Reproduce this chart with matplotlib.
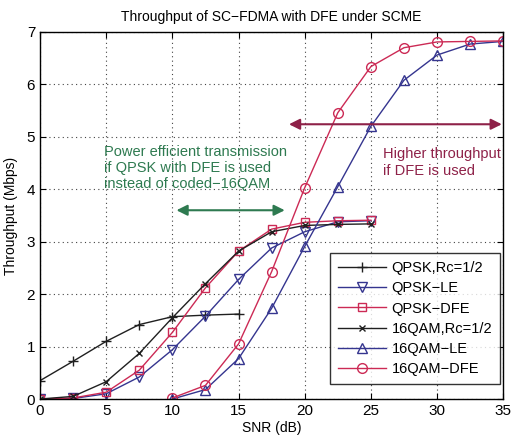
import numpy as np
import matplotlib.pyplot as plt

plt.rcParams['font.family'] = ['Liberation Sans', 'DejaVu Sans']

qpsk_coded_x = [0, 2.5, 5, 7.5, 10, 12.5, 15]
qpsk_coded = [0.35, 0.72, 1.10, 1.42, 1.57, 1.60, 1.62]

qam_coded_x = [0, 2.5, 5, 7.5, 10, 12.5, 15, 17.5, 20, 22.5, 25]
qam_coded = [0.0, 0.05, 0.33, 0.87, 1.55, 2.20, 2.82, 3.19, 3.31, 3.33, 3.34]

qpsk_le_x = [0, 2.5, 5, 7.5, 10, 12.5, 15, 17.5, 20, 22.5, 25]
qpsk_le = [0.0, 0.01, 0.10, 0.42, 0.94, 1.58, 2.28, 2.88, 3.19, 3.38, 3.40]

qpsk_dfe_x = [0, 2.5, 5, 7.5, 10, 12.5, 15, 17.5, 20, 22.5, 25]
qpsk_dfe = [0.0, 0.02, 0.13, 0.55, 1.27, 2.12, 2.82, 3.24, 3.37, 3.40, 3.41]

qam_le_x = [10, 12.5, 15, 17.5, 20, 22.5, 25, 27.5, 30, 32.5, 35]
qam_le = [0.0, 0.18, 0.77, 1.73, 2.91, 4.05, 5.20, 6.08, 6.56, 6.77, 6.82]

qam_dfe_x = [10, 12.5, 15, 17.5, 20, 22.5, 25, 27.5, 30, 32.5, 35]
qam_dfe = [0.02, 0.26, 1.05, 2.43, 4.03, 5.46, 6.34, 6.70, 6.81, 6.82, 6.83]

blue = '#35358f'
red = '#cc2a55'
green = '#2e7a50'
maroon = '#8e2148'

fig = plt.figure(figsize=(5.13, 4.38), dpi=100)
ax = fig.add_axes([0.078, 0.089, 0.903, 0.838])

kw = dict(lw=1.0, ms=7, mew=1.0)
ax.plot(qpsk_coded_x, qpsk_coded, color='#202020', marker='+', label='QPSK,Rc=1/2', **kw)
ax.plot(qpsk_le_x, qpsk_le, color=blue, marker='v', mfc='none', label='QPSK\u2212LE', **kw)
ax.plot(qpsk_dfe_x, qpsk_dfe, color=red, marker='s', mfc='none', label='QPSK\u2212DFE', **dict(kw, ms=6))
ax.plot(qam_coded_x, qam_coded, color='#202020', marker='x', label='16QAM,Rc=1/2', **dict(kw, ms=5))
ax.plot(qam_le_x, qam_le, color=blue, marker='^', mfc='none', label='16QAM\u2212LE', **kw)
ax.plot(qam_dfe_x, qam_dfe, color=red, marker='o', mfc='none', label='16QAM\u2212DFE', **kw)

ax.set_xlim(0, 35)
ax.set_ylim(0, 7)
ax.set_xticks(range(0, 36, 5))
ax.set_yticks(range(0, 8))
ax.grid(True, linestyle=(0, (1, 3)), color='#444444', lw=0.8)
ax.tick_params(direction='in', top=True, right=True, labelsize=11, length=4)
for s in ax.spines.values():
    s.set_linewidth(1.0)

ax.set_title('Throughput of SC\u2212FDMA with DFE under SCME', fontsize=10, pad=8)
ax.set_xlabel('SNR (dB)', fontsize=10, labelpad=2)
ax.set_ylabel('Throughput (Mbps)', fontsize=10, labelpad=6)

# annotations
ax.annotate('', xy=(10.1, 3.6), xytext=(18.7, 3.6),
            arrowprops=dict(arrowstyle='<|-|>', color=green, lw=1.5, mutation_scale=16))
ax.text(4.85, 4.85, 'Power efficient transmission\nif QPSK with DFE is used\ninstead of coded\u221216QAM',
        color=green, fontsize=10.5, va='top', ha='left', linespacing=1.2)

ax.annotate('', xy=(18.6, 5.24), xytext=(35.1, 5.24), annotation_clip=False,
            arrowprops=dict(arrowstyle='<|-|>', color=maroon, lw=1.5, mutation_scale=16))
ax.text(25.9, 4.8, 'Higher throughput\nif DFE is used', color=maroon, fontsize=10.5,
        va='top', ha='left', linespacing=1.2)

leg = ax.legend(loc='lower right', bbox_to_anchor=(0.9936, 0.041), fontsize=10.5,
                frameon=True, fancybox=False, edgecolor='black', handlelength=3.3,
                borderaxespad=0.0, labelspacing=0.42, borderpad=0.55, handletextpad=0.4)
leg.get_frame().set_linewidth(1.0)

fig.savefig('out.png', dpi=100)
